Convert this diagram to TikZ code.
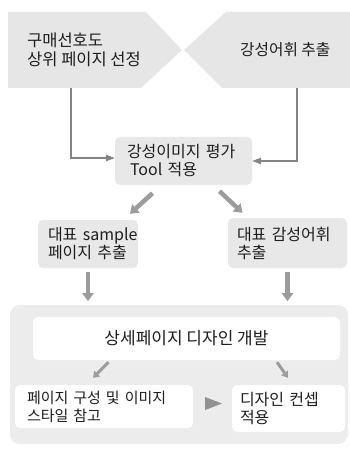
\documentclass[tikz,border=0pt]{standalone}
\usepackage{fontspec}
\setmainfont{Noto Sans CJK KR}
\usetikzlibrary{arrows.meta,calc}
\definecolor{shapegray}{HTML}{E6E6E6}
\definecolor{boxgray}{HTML}{E8E8E8}
\definecolor{contgray}{HTML}{ECECEC}
\definecolor{linegray}{HTML}{858585}
\definecolor{fatgray}{HTML}{9C9C9C}
\definecolor{txt}{HTML}{1E1E1E}
\begin{document}
\begin{tikzpicture}[x=1pt,y=-1pt,
  lbl/.style={font=\fontsize{16pt}{18pt}\selectfont, text=txt, inner sep=0pt},
  gbox/.style={lbl, rounded corners=5pt, fill=boxgray, align=left, inner ysep=0pt},
  wbox/.style={lbl, rounded corners=5pt, fill=white, inner ysep=0pt},
  conn/.style={draw=linegray, line width=1.3pt, -{Triangle[length=9pt,width=6.5pt]}},
  fat/.style={draw=fatgray, line width=4.5pt, -{Triangle[length=8pt,width=11pt]}},
  slim/.style={draw=fatgray, line width=3pt, -{Triangle[length=6pt,width=8pt]}}]
\useasboundingbox (0,0) rectangle (350,449);
% top shapes
\fill[shapegray] (8,12) -- (146,12) -- (182,50) -- (141,88) -- (8,88) -- cycle;
\fill[shapegray] (226,12) -- (350,12) -- (350,88) -- (222,88) -- (184,50) -- cycle;
\node[lbl, anchor=west, align=left, font=\fontsize{16.5pt}{19pt}\selectfont] (tl) at (27,50) {구매선호도\\상위 페이지 선정};
\node[lbl, anchor=west, font=\fontsize{15.7pt}{18pt}\selectfont] (tr) at (240,50) {강성어휘 추출};
\coordinate (ls) at (71,88);
\coordinate (rs) at (297,88);
% middle box
\node[gbox, minimum height=48pt, inner xsep=12pt, text width=113pt] (mid) at (183.5,161) {\mbox{강성이미지 평가}\\\mbox{\hspace*{3pt}Tool 적용}};
\draw[conn] (ls) |- ([yshift=3pt]mid.west);
\draw[conn] (rs) |- (mid.east);
% second row
\node[gbox, minimum height=48pt, inner xsep=10pt, text width=80pt] (samp) at (88,244) {\mbox{대표 sample}\\\mbox{페이지 추출}};
\node[gbox, minimum height=50pt, inner xsep=9pt, text width=101pt] (kw) at (287.5,243) {\mbox{대표 감성어휘}\\추출};
\draw[fat] ($(mid.south)+(-31,8)$) -- ($(samp.north)+(42,-6)$);
\draw[fat] ($(mid.south)+(36,6)$) -- ($(kw.north)+(-45,-5)$);
% container
\node[fill=contgray, rounded corners=10pt, minimum width=338pt, minimum height=139pt, inner sep=0pt] (cont) at (179,374.5) {};
\draw[fat] ($(samp.south)+(0,4)$) -- ($(samp.south)+(0,33)$);
\draw[fat] ($(kw.south)+(0,4)$) -- ($(kw.south)+(0,33)$);
\node[wbox, minimum width=307pt, minimum height=43pt, font=\fontsize{17pt}{18pt}\selectfont] (dev) at (186.5,338.5) {상세페이지 디자인 개발};
\node[wbox, align=left, minimum height=43pt, inner xsep=12pt, text width=154pt, font=\fontsize{15pt}{18pt}\selectfont] (ref) at (104,406.5) {\mbox{페이지 구성 및 이미지}\\\mbox{스타일 참고}};
\node[wbox, align=left, minimum height=47pt, inner xsep=8pt, text width=97pt] (con) at (288.5,408.5) {\mbox{디자인 컨셉}\\적용};
\draw[slim] ($(dev.south)+(-78,2)$) -- ($(ref.north)+(-11,-7)$);
\draw[slim] ($(dev.south)+(90.5,2)$) -- ($(con.north)+(-0.5,-7)$);
\fill[linegray!90] (205,397) -- (222,403.5) -- (205,410) -- cycle;
\end{tikzpicture}
\end{document}
